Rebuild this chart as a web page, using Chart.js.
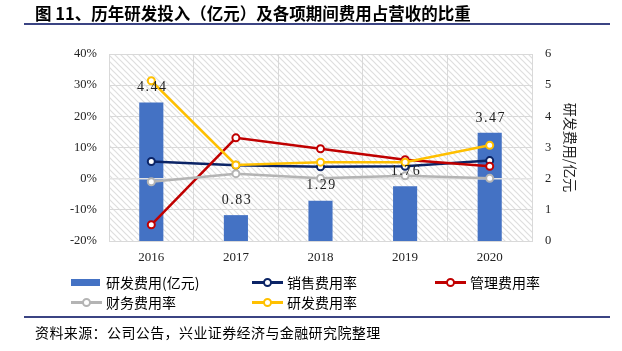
<!DOCTYPE html>
<html>
<head>
<meta charset="utf-8">
<script src="https://cdn.jsdelivr.net/npm/chart.js@4/dist/chart.umd.min.js"></script>
<style>
  html, body { margin: 0; padding: 0; background: #fff; }
  #wrap { position: relative; width: 622px; height: 351px; overflow: hidden; font-family: "Noto Sans CJK SC", sans-serif; color: #000; }
  #c { position: absolute; left: 0; top: 0; }
  .abs { position: absolute; white-space: nowrap; }
  #title { left: 35px; top: 3px; font-size: 16.5px; font-weight: bold; line-height: 20px; }
  .rule { position: absolute; left: 24px; width: 586px; height: 2px; background: #3b4483; }
  .lg { position: absolute; font-size: 14px; line-height: 16px; }
  #src { left: 35px; top: 323px; font-size: 14px; line-height: 18px; letter-spacing: 0.4px; }
</style>
</head>
<body>
<div id="wrap">
  <canvas id="c" width="622" height="351"></canvas>
  <div id="title" class="abs">图 11、历年研发投入（亿元）及各项期间费用占营收的比重</div>
  <div class="rule" style="top:23px"></div>
  <div id="legend"></div>
  <div class="rule" style="top:316px"></div>
  <div id="src" class="abs">资料来源：公司公告，兴业证券经济与金融研究院整理</div>
</div>
<script>
const categories = ['2016', '2017', '2018', '2019', '2020'];
const rdExpense = [4.44, 0.83, 1.29, 1.76, 3.47];          // 亿元, right axis
const salesRate = [5.5, 4.3, 3.8, 4.0, 5.8];               // %
const adminRate = [-14.8, 13.1, 9.6, 6.1, 4.0];            // %
const financeRate = [-1.0, 1.6, 0.1, 0.9, 0.1];            // %
const rdRate = [31.4, 4.4, 5.3, 5.3, 10.7];                // %
const leftTicks = [-20, -10, 0, 10, 20, 30, 40];
const rightTicks = [0, 1, 2, 3, 4, 5, 6];

const seriesNames = ['研发费用(亿元)', '销售费用率', '管理费用率', '财务费用率', '研发费用率'];
const colors = ['#4472C4', '#0B2466', '#C00000', '#B4B4B4', '#FFC000'];

// Legend (HTML)
const legendPos = [[71, 274], [252, 274], [435, 274], [71, 294], [252, 294]];
const lg = document.getElementById('legend');
seriesNames.forEach((name, i) => {
  const [x, y] = legendPos[i];
  let sw;
  if (i === 0) {
    sw = `<div style="position:absolute;left:${x}px;top:${y+5}px;width:29px;height:7px;background:${colors[0]}"></div>`;
  } else {
    sw = `<div style="position:absolute;left:${x}px;top:${y+7}px;width:31px;height:3px;background:${colors[i]}"></div>` +
         `<div style="position:absolute;left:${x+11}px;top:${y+4}px;width:5px;height:5px;border:2px solid ${colors[i]};border-radius:50%;background:#fff"></div>`;
  }
  lg.insertAdjacentHTML('beforeend', sw + `<div class="lg" style="left:${x+35}px;top:${y}px">${name}</div>`);
});

// hatch pattern
function makePattern(ctx) {
  const p = document.createElement('canvas');
  const s = 6;
  p.width = s; p.height = s;
  const g = p.getContext('2d');
  g.strokeStyle = '#dedede';
  g.lineWidth = 1.2;
  g.beginPath();
  g.moveTo(-1, -1); g.lineTo(s + 1, s + 1);
  g.moveTo(-1, s - 1); g.lineTo(1, s + 1);
  g.moveTo(s - 1, -1); g.lineTo(s + 1, 1);
  g.stroke();
  return ctx.createPattern(p, 'repeat');
}

const bgPlugin = {
  id: 'bg',
  beforeDraw(chart) {
    const { ctx, chartArea: a } = chart;
    ctx.save();
    ctx.fillStyle = makePattern(ctx);
    ctx.fillRect(a.left, a.top, a.right - a.left, a.bottom - a.top);
    ctx.restore();
  },
  afterDatasetDraw(chart, args) {
    if (args.index !== 0) return;
    const { ctx, chartArea: a, scales } = chart;
    const y0 = scales.y.getPixelForValue(0);
    ctx.save();
    ctx.strokeStyle = '#e4e4e4';
    ctx.lineWidth = 1.5;
    ctx.beginPath();
    ctx.moveTo(a.left, y0); ctx.lineTo(a.right, y0);
    ctx.stroke();
    ctx.restore();
  },
  afterDatasetsDraw(chart) {
    const { ctx } = chart;
    const meta = chart.getDatasetMeta(0);
    ctx.save();
    ctx.font = '14px "Liberation Serif", serif';
    ctx.fillStyle = '#222';
    ctx.textAlign = 'center';
    ctx.textBaseline = 'bottom';
    if ('letterSpacing' in ctx) ctx.letterSpacing = '1.5px';
    meta.data.forEach((bar, i) => {
      ctx.fillText(rdExpense[i].toFixed(2), bar.x + 1, bar.y - 8);
    });
    ctx.restore();
  }
};

const lineDs = (i, data) => ({
  type: 'line',
  label: seriesNames[i],
  data: data,
  yAxisID: 'y',
  borderColor: colors[i],
  backgroundColor: colors[i],
  borderWidth: 2.5,
  pointRadius: 3.5,
  pointBorderWidth: 2,
  pointBackgroundColor: '#fff',
  pointBorderColor: colors[i],
  tension: 0,
  order: 5 - i
});

const tickFont = { family: '"Liberation Serif", serif', size: 13 };

new Chart(document.getElementById('c'), {
  data: {
    labels: categories,
    datasets: [
      {
        type: 'bar',
        label: seriesNames[0],
        data: rdExpense,
        yAxisID: 'y1',
        backgroundColor: colors[0],
        barPercentage: 0.285,
        categoryPercentage: 1,
        order: 10
      },
      lineDs(1, salesRate),
      lineDs(2, adminRate),
      lineDs(3, financeRate),
      lineDs(4, rdRate)
    ]
  },
  options: {
    responsive: false,
    animation: false,
    devicePixelRatio: 1,
    layout: { padding: { left: 0, top: 54, right: 39, bottom: 80 } },
    plugins: { legend: { display: false }, tooltip: { enabled: false }, title: { display: false } },
    scales: {
      x: {
        offset: true,
        grid: { color: '#d9d9d9', lineWidth: 1, drawTicks: false, offset: true },
        border: { color: '#d9d9d9' },
        ticks: { font: tickFont, color: '#222', padding: 9 },
        afterFit(s) { s.height = 30; }
      },
      y: {
        position: 'left',
        min: -20, max: 40,
        afterBuildTicks(s) { s.ticks = leftTicks.map(v => ({ value: v })); },
        grid: { color: '#d9d9d9', lineWidth: 1, drawTicks: false },
        border: { color: '#d9d9d9' },
        ticks: { font: { family: '"Liberation Serif", serif', size: 12.5 }, color: '#222', padding: 12, callback: v => v + '%' },
        afterFit(s) { s.width = 109; }
      },
      y1: {
        position: 'right',
        min: 0, max: 6,
        afterBuildTicks(s) { s.ticks = rightTicks.map(v => ({ value: v })); },
        grid: { display: false, drawTicks: false },
        border: { display: false },
        ticks: { font: { family: '"Liberation Serif", serif', size: 12.5 }, color: '#222', padding: 13 },
        title: { display: true, text: '研发费用/亿元', font: { family: '"Noto Sans CJK SC", sans-serif', size: 14 }, color: '#222', padding: { top: 4, bottom: 4 } },
        afterFit(s) { s.width = 51; }
      }
    }
  },
  plugins: [bgPlugin]
});
</script>
</body>
</html>
